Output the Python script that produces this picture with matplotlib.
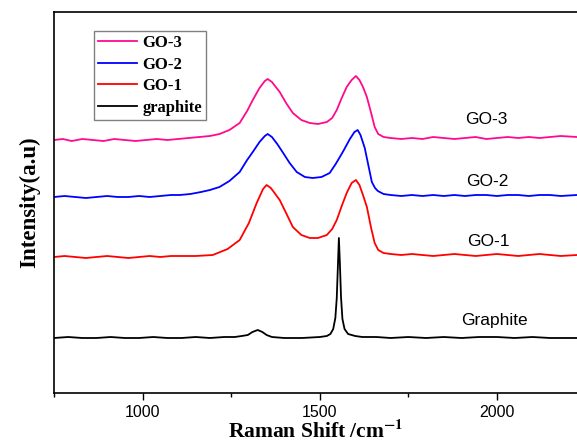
import matplotlib.pyplot as plt
from matplotlib.ticker import MultipleLocator

# Raman spectra (shift in cm-1, intensity in arbitrary offset units)
go3_x = [750, 775, 800, 830, 860, 890, 920, 950, 980, 1010, 1040, 1070, 1100, 1130, 1160,
         1190, 1217, 1245, 1274, 1295, 1311, 1330, 1345, 1353, 1365, 1387, 1405, 1424, 1448,
         1472, 1495, 1520, 1535, 1548, 1562, 1576, 1590, 1602, 1612, 1622, 1633, 1645, 1655,
         1665, 1680, 1700, 1730, 1760, 1790, 1820, 1850, 1880, 1910, 1940, 1970, 2000, 2030,
         2060, 2090, 2120, 2150, 2180, 2226]
go3_y = [253, 254, 252, 254, 253, 252, 254, 253, 252, 253, 254, 253, 254, 255, 256,
         257, 259, 263, 270, 282, 293, 305, 312, 314, 311, 301, 290, 280, 273,
         270, 269, 271, 275, 283, 295, 306, 313, 317, 313, 306, 296, 280, 266,
         259, 256, 255, 254, 255, 254, 256, 255, 254, 255, 256, 254, 255, 256,
         255, 256, 255, 256, 257, 256]

go2_x = [750, 780, 810, 840, 870, 900, 930, 960, 990, 1020, 1050, 1080, 1105, 1135, 1165,
         1190, 1217, 1245, 1274, 1295, 1311, 1330, 1345, 1353, 1365, 1380, 1395, 1415, 1435,
         1458, 1480, 1505, 1528, 1545, 1565, 1585, 1598, 1607, 1615, 1627, 1637, 1647, 1656,
         1664, 1680, 1700, 1730, 1760, 1790, 1820, 1850, 1880, 1910, 1940, 1970, 2000, 2030,
         2060, 2090, 2120, 2150, 2180, 2226]
go2_y = [196, 197, 196, 195, 196, 197, 196, 196, 197, 196, 197, 198, 198, 199, 201,
         203, 206, 212, 221, 233, 241, 251, 257, 259, 256, 249, 241, 230, 221,
         216, 215, 216, 220, 229, 241, 254, 261, 263, 258, 245, 228, 211, 205,
         202, 199, 198, 197, 198, 197, 198, 197, 198, 197, 198, 198, 197, 198,
         198, 197, 198, 198, 197, 198]

go1_x = [750, 780, 810, 840, 870, 900, 930, 960, 990, 1020, 1050, 1080, 1105, 1150, 1198,
         1240, 1274, 1300, 1322, 1340, 1350, 1362, 1387, 1405, 1424, 1448, 1472, 1495, 1520,
         1535, 1548, 1562, 1576, 1590, 1602, 1612, 1622, 1633, 1645, 1655, 1665, 1680, 1700,
         1730, 1760, 1790, 1820, 1850, 1880, 1910, 1940, 1970, 2000, 2030, 2060, 2090, 2120,
         2150, 2180, 2226]
go1_y = [136, 137, 136, 135, 136, 137, 136, 135, 136, 137, 136, 137, 137, 137, 138,
         144, 153, 170, 190, 204, 208, 205, 193, 180, 166, 158, 155, 155, 158,
         164, 173, 187, 200, 210, 213, 208, 198, 186, 165, 150, 143, 140, 139,
         138, 139, 138, 137, 138, 139, 138, 137, 138, 139, 138, 137, 138, 139,
         138, 137, 138]

gr_x = [750, 790, 830, 870, 910, 950, 990, 1030, 1070, 1110, 1150, 1190, 1230, 1260, 1280,
        1297, 1310, 1325, 1338, 1350, 1365, 1400, 1450, 1500, 1520, 1530, 1538, 1544, 1548,
        1551, 1554, 1557, 1560, 1564, 1570, 1580, 1600, 1620, 1660, 1700, 1750, 1800, 1850,
        1900, 1950, 2000, 2050, 2100, 2150, 2200, 2226]
gr_y = [55, 56, 55, 55, 56, 55, 55, 56, 55, 55, 56, 55, 56, 56, 57,
        58, 61, 63, 61, 58, 56, 55, 55, 56, 57, 59, 64, 75, 95,
        125, 155, 128, 96, 74, 64, 59, 57, 56, 56, 55, 56, 55, 56,
        55, 56, 56, 55, 56, 55, 55, 55]

labels = ['GO-3', 'GO-2', 'GO-1', 'graphite']
colors = ['#FF0A8C', '#0000FF', '#FF0000', '#000000']
tags = ['GO-3', 'GO-2', 'GO-1', 'Graphite']
tag_pos = [(1969, 273), (1972, 211), (1977, 152), (1994, 73)]

plt.rcParams['mathtext.fontset'] = 'stix'

fig = plt.figure(figsize=(5.77, 4.45), dpi=100)
ax = fig.add_axes([54 / 577, 1 - 393 / 445, 1 - 54 / 577, (393 - 12) / 445])

series = [(go3_x, go3_y), (go2_x, go2_y), (go1_x, go1_y), (gr_x, gr_y)]
for (xs, ys), lab, col in zip(series, labels, colors):
    ax.plot(xs, ys, color=col, lw=1.3, label=lab)

for t, (tx, ty) in zip(tags, tag_pos):
    ax.text(tx, ty, t, ha='center', va='center', fontsize=12.5, family='Liberation Sans')

ax.set_xlim(750, 2226)
ax.set_ylim(0, 381)
ax.xaxis.set_major_locator(MultipleLocator(500))
ax.xaxis.set_minor_locator(MultipleLocator(250))
ax.tick_params(axis='x', which='major', direction='out', length=5, width=1,
               labelsize=11.5)
ax.tick_params(axis='x', which='minor', direction='out', length=3, width=1)
ax.set_yticks([])
for lbl in ax.get_xticklabels():
    lbl.set_family('Liberation Sans')
ax.spines['right'].set_visible(False)
for s in ['left', 'top', 'bottom']:
    ax.spines[s].set_linewidth(1.2)

ax.set_xlabel(r'Raman Shift /cm$^{\mathbf{-1}}$', family='Liberation Serif',
              fontweight='bold', fontsize=15.5, labelpad=0)
ax.set_ylabel('Intensity(a.u)', family='Liberation Serif', fontweight='bold',
              fontsize=16.5, labelpad=10)

leg = ax.legend(loc='upper left', bbox_to_anchor=(0.0765, 0.95), borderaxespad=0,
                fancybox=False, edgecolor='#808080', framealpha=1,
                prop={'family': 'Liberation Serif', 'weight': 'bold', 'size': 12},
                handlelength=2.35, handletextpad=0.3, labelspacing=0.33,
                borderpad=0.25)
leg.get_frame().set_linewidth(1.0)

fig.savefig('out.png', dpi=100)
